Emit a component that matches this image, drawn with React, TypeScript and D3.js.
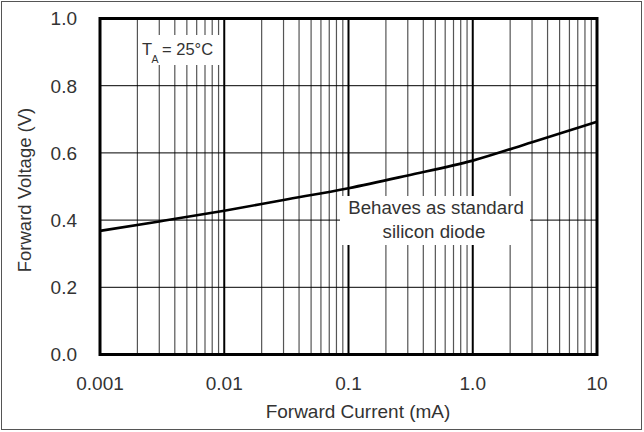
import { useEffect, useRef } from "react";
import * as d3 from "d3";

// forward current (mA) vs forward voltage (V)
const currentMA = [0.001, 0.003, 0.01, 0.03, 0.1, 0.3, 1, 3, 10];
const voltageV = [0.368, 0.396, 0.428, 0.46, 0.495, 0.533, 0.577, 0.632, 0.693];

const xTickValues = [0.001, 0.01, 0.1, 1, 10];
const xTickLabels = ["0.001", "0.01", "0.1", "1.0", "10"];
const yTickValues = [0, 0.2, 0.4, 0.6, 0.8, 1.0];
const yTickLabels = ["0.0", "0.2", "0.4", "0.6", "0.8", "1.0"];

const W = 644, H = 432;
const m = { l: 100, r: 47, t: 18.5, b: 77.5 };
const FONT = "Arial, 'Liberation Sans', Helvetica, sans-serif";
const TXT = "#333";

export default function App() {
  const ref = useRef<SVGSVGElement | null>(null);

  useEffect(() => {
    const svg = d3.select(ref.current);
    svg.selectAll("*").remove();

    const x = d3.scaleLog().domain([0.001, 10]).range([m.l, W - m.r]);
    const y = d3.scaleLinear().domain([0, 1]).range([H - m.b, m.t]);

    svg.append("rect")
      .attr("x", 0).attr("y", 0).attr("width", W).attr("height", H)
      .attr("fill", "white");

    // outer border
    svg.append("rect")
      .attr("x", 1.5).attr("y", 1.5).attr("width", 640).attr("height", 428)
      .attr("fill", "none").attr("stroke", "#555").attr("stroke-width", 1);

    // minor + decade vertical grid
    x.ticks().forEach(v => {
      const lg = Math.log10(v);
      const isDecade = Math.abs(lg - Math.round(lg)) < 1e-6;
      svg.append("line")
        .attr("x1", x(v)).attr("x2", x(v))
        .attr("y1", y(1)).attr("y2", y(0))
        .attr("stroke", isDecade ? "#000" : "#555")
        .attr("stroke-width", isDecade ? 2 : 1.2);
    });

    // horizontal grid
    yTickValues.slice(1, -1).forEach(v => {
      svg.append("line")
        .attr("x1", x(0.001)).attr("x2", x(10))
        .attr("y1", y(v)).attr("y2", y(v))
        .attr("stroke", "#000").attr("stroke-width", 1);
    });

    // white boxes behind annotations
    svg.append("rect")
      .attr("x", 140).attr("y", 35).attr("width", 81).attr("height", 30)
      .attr("fill", "white");
    svg.append("rect")
      .attr("x", 340).attr("y", 196).attr("width", 190).attr("height", 49)
      .attr("fill", "white");

    // curve
    const line = d3.line<number>()
      .x((_, i) => x(currentMA[i]))
      .y(d => y(d))
      .curve(d3.curveMonotoneX);
    svg.append("path")
      .datum(voltageV)
      .attr("d", line)
      .attr("fill", "none")
      .attr("stroke", "#000")
      .attr("stroke-width", 2.6)
      .attr("stroke-linejoin", "round");

    // frame
    svg.append("rect")
      .attr("x", x(0.001)).attr("y", y(1))
      .attr("width", x(10) - x(0.001)).attr("height", y(0) - y(1))
      .attr("fill", "none").attr("stroke", "#000").attr("stroke-width", 3);

    const txt = (sx: number, sy: number, s: string, size = 19, anchor = "middle") =>
      svg.append("text")
        .attr("x", sx).attr("y", sy)
        .attr("text-anchor", anchor)
        .attr("font-family", FONT)
        .attr("font-size", size)
        .attr("fill", TXT)
        .text(s);

    // tick labels
    xTickValues.forEach((v, i) => txt(x(v), 390, xTickLabels[i]));
    yTickValues.forEach((v, i) => txt(77, y(v) + 6.8, yTickLabels[i], 19, "end"));

    // axis titles
    txt(358, 418, "Forward Current (mA)");
    svg.append("text")
      .attr("transform", `translate(31,190) rotate(-90)`)
      .attr("text-anchor", "middle")
      .attr("font-family", FONT)
      .attr("font-size", 18.5)
      .attr("fill", TXT)
      .text("Forward Voltage (V)");

    // annotations
    txt(142, 55, "T", 16.5, "start");
    txt(151.5, 63, "A", 10.5, "start");
    txt(162, 55, "= 25°C", 16.5, "start");
    txt(436, 213.5, "Behaves as standard", 18.7);
    txt(434, 237.5, "silicon diode", 18.7);
  }, []);

  return (
    <svg
      ref={ref}
      width={W}
      height={H}
      style={{ position: "absolute", left: 0, top: 0 }}
    />
  );
}
